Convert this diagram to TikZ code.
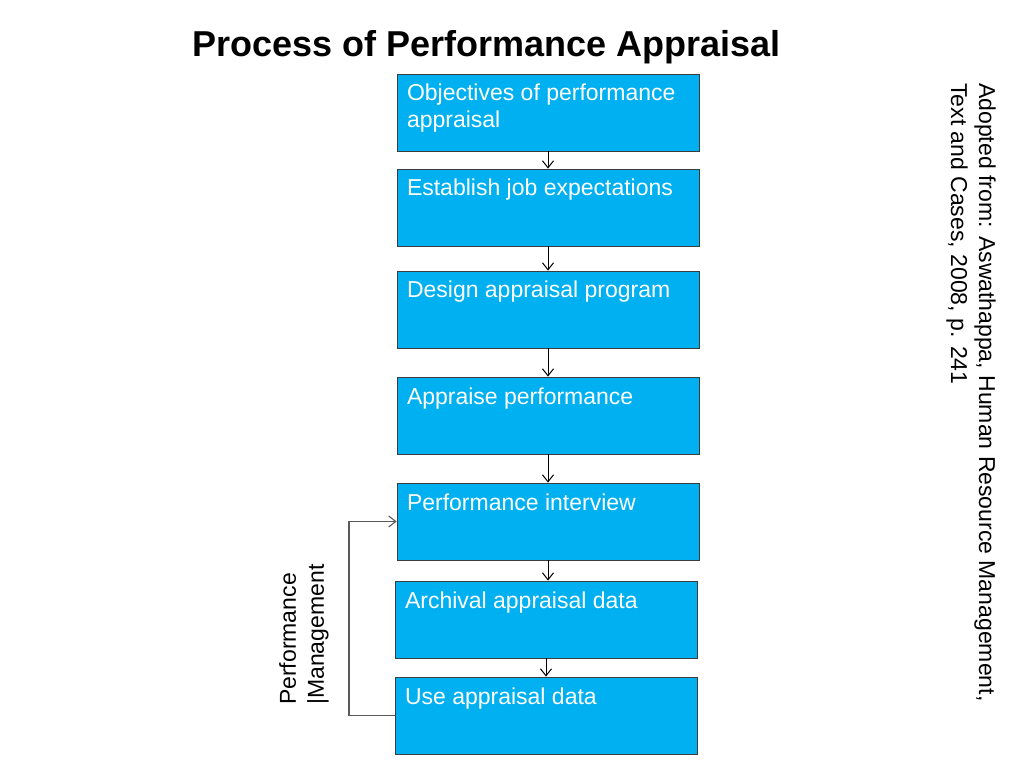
\documentclass[tikz,border=0pt]{standalone}
\usepackage{fontspec}
\setmainfont{Liberation Sans}
\usetikzlibrary{arrows.meta}
\definecolor{boxblue}{RGB}{0,176,240}
\definecolor{edgegray}{RGB}{60,60,60}
\definecolor{loopgray}{RGB}{90,90,90}
\newcommand{\boxtext}[1]{\parbox[c][77pt][t]{282pt}{\rule{0pt}{27pt}#1}}
\tikzset{
  stepbox/.style={draw=edgegray, line width=0.8pt, fill=boxblue, text=white,
    inner xsep=10pt, inner ysep=0pt, font=\fontsize{23}{27}\selectfont},
  flowarrow/.style={draw=black, line width=1pt, -{Straight Barb[length=7pt,width=11pt]}},
  loopline/.style={draw=loopgray, line width=1.1pt, -{Straight Barb[length=7pt,width=11pt]}},
  sidetext/.style={inner sep=0pt, align=left, font=\fontsize{23}{28}\selectfont},
}
\begin{document}
\begin{tikzpicture}[x=1pt,y=-1pt]
\fill[white] (0,0) rectangle (1023,767);
\useasboundingbox (0,0) rectangle (1023,767);
\node[anchor=base, font=\fontsize{36}{40}\selectfont\bfseries] (title) at (486.5,57) {Process of Performance Appraisal};
\node[stepbox] (b1) at (548,112.5) {\boxtext{Objectives of performance\\appraisal}};
\node[stepbox] (b2) at (548,207.5) {\boxtext{Establish job expectations}};
\node[stepbox] (b3) at (548,309.5) {\boxtext{Design appraisal program}};
\node[stepbox] (b4) at (548,415.5) {\boxtext{Appraise performance}};
\node[stepbox] (b5) at (548,521.5) {\boxtext{Performance interview}};
\node[stepbox] (b6) at (546,619.5) {\boxtext{Archival appraisal data}};
\node[stepbox] (b7) at (546,715.5) {\boxtext{Use appraisal data}};
\draw[flowarrow] (b1.south) -- (b2.north);
\draw[flowarrow] (b2.south) -- (b3.north);
\draw[flowarrow] (b3.south) -- (b4.north);
\draw[flowarrow] (b4.south) -- (b5.north);
\draw[flowarrow] (b5.south) -- (b5.south |- b6.north);
\draw[flowarrow] (b6.south) -- (b6.south |- b7.north);
\coordinate (fb1) at (349,715.5);
\coordinate (fb2) at (349,521.5);
\draw[loopline] (b7.west) -- (fb1) -- (fb2) -- (b5.west);
\node[sidetext, rotate=90, anchor=north west] (pm) at (279,705) {Performance\\|Management};
\node[sidetext, rotate=-90, anchor=north west] (src) at (996,83) {Adopted from: Aswathappa, Human Resource Management,\\Text and Cases, 2008, p. 241};
\end{tikzpicture}
\end{document}
